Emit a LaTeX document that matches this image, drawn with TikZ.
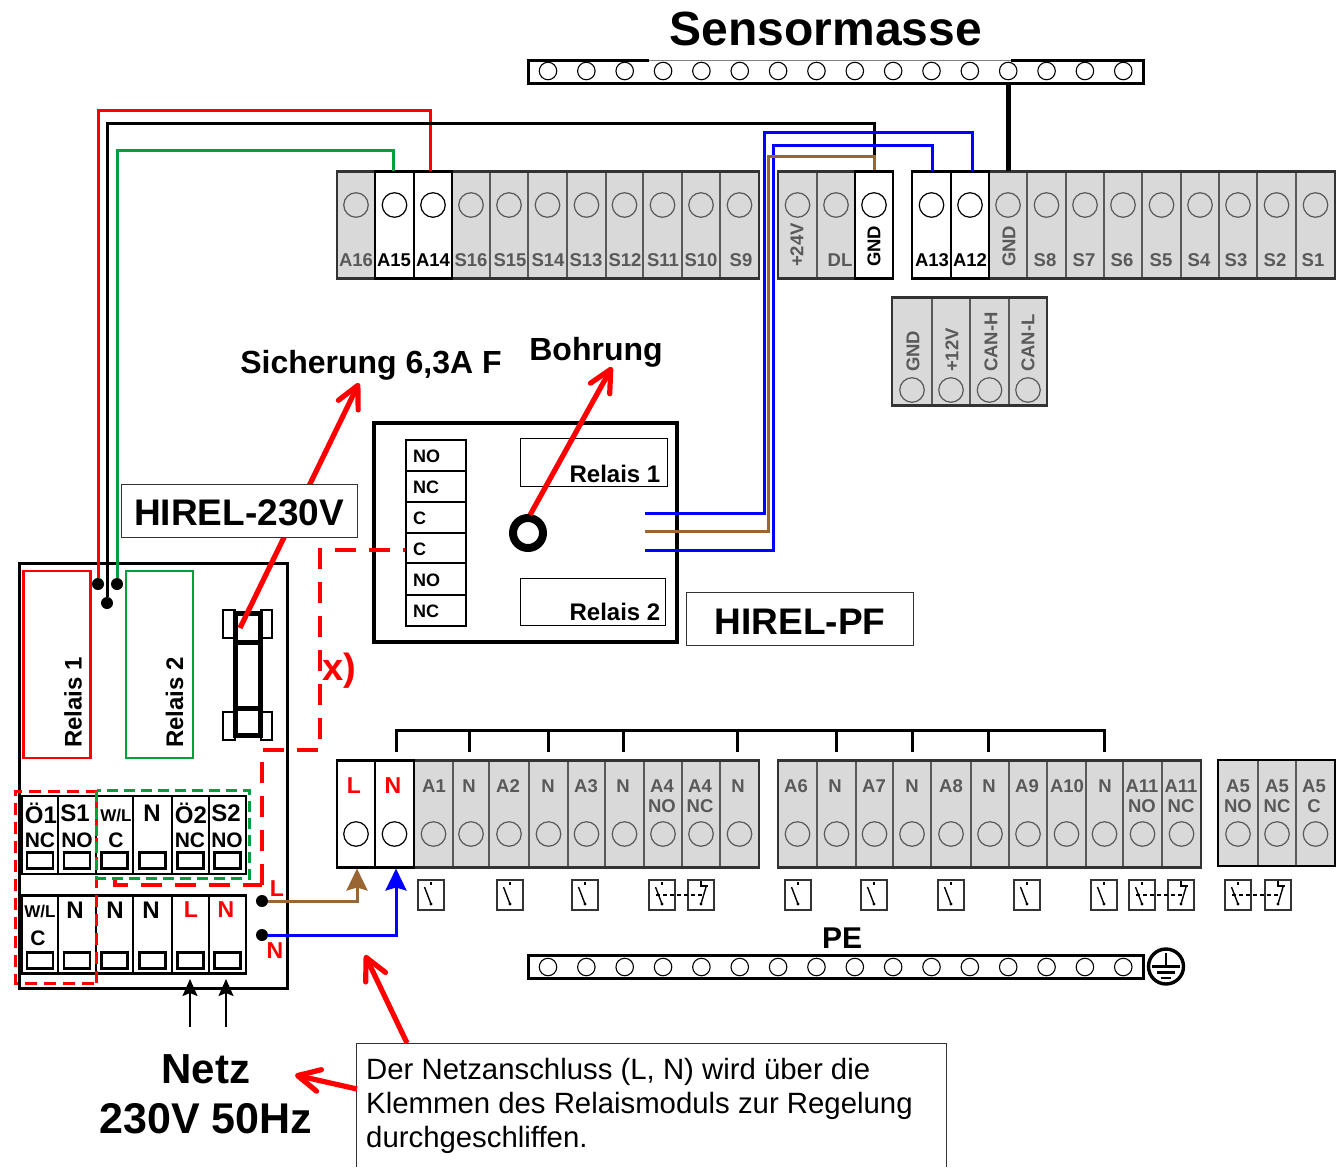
\documentclass[tikz,border=0pt]{standalone}
\usepackage{fontspec}
\setmainfont{Liberation Sans}
\usetikzlibrary{arrows.meta}
\definecolor{zellgrau}{HTML}{D9D9D9}
\definecolor{zellrand}{HTML}{595959}
\definecolor{leistrand}{HTML}{333333}
\definecolor{kabelgruen}{HTML}{00A03C}
\definecolor{kabelbraun}{HTML}{996633}
\tikzset{
  fett/.style={inner sep=0pt,font=\fontsize{#1}{#1}\selectfont\bfseries},
  grauzelle/.style={draw=zellrand,fill=zellgrau,line width=1.8pt},
  weisszelle/.style={draw=black,fill=white,line width=2.6pt},
  graukreis/.style={circle,draw=zellrand,line width=1.2pt,minimum size=24.5pt,inner sep=0pt},
  weisskreis/.style={circle,draw=black,line width=1.2pt,minimum size=24.5pt,inner sep=0pt},
  leistkreis/.style={circle,draw=black,line width=1.1pt,minimum size=17.5pt,inner sep=0pt},
  grautext/.style={fett=18.5,text=zellrand},
  schwarztext/.style={fett=18.5,text=black},
  rottext/.style={fett=23,text=red},
  modultext/.style={fett=#1,text=black},
  strip/.style={draw=leistrand,line width=2.6pt},
  kabel/.style={line width=3pt},
  punkt/.style={circle,fill=black,inner sep=0pt,minimum size=12pt},
  schildbox/.style={draw=leistrand,fill=white,line width=1pt,inner sep=0pt},
  zeiger/.style={draw=red,line width=5.2pt,-{Straight Barb[length=22pt,width=22pt,round,line width=5.2pt]}},
  rotdash/.style={draw=red,line width=4pt,dash pattern=on 21pt off 13pt},
  gruendash/.style={draw=kabelgruen,line width=3pt,dash pattern=on 11pt off 6pt},
  schalter/.style={draw=leistrand,fill=white,line width=1.2pt,minimum width=26pt,minimum height=30pt,inner sep=0pt},
}
\newcommand{\klemmen}[5]{%
  \foreach \xa/\xb/\name in {#5}{
    \pgfmathsetmacro{\xm}{(\xa+\xb)/2}
    \pgfmathsetmacro{\bw}{\xb-\xa}
    \node[#1zelle,minimum width=\bw pt,minimum height=#3pt] (\name) at (\xm,#2) {};
    \node[#1kreis] (\name-k) at (\xm,#4) {};
  }
}
\newcommand{\schliesser}[1]{%
  \node[schalter] (sw#1) at (#1,895) {};
  \draw[line width=1.4pt] (#1,882) -- (#1,885);
  \draw[line width=1.4pt] ([shift={(-6.5pt,8pt)}]sw#1.center) -- ([shift={(0pt,-9pt)}]sw#1.center);
  \fill ([shift={(0pt,-9pt)}]sw#1.center) circle (1.6pt);
}
\newcommand{\oeffner}[1]{%
  \node[schalter] (sw#1) at (#1,895) {};
  \draw[line width=1.4pt] (#1,881) -- (#1,886) -- ++(6.5,0);
  \draw[line width=1.4pt] ([shift={(5pt,8pt)}]sw#1.center) -- ([shift={(0pt,-9pt)}]sw#1.center);
  \fill ([shift={(0pt,-9pt)}]sw#1.center) circle (1.6pt);
}
\begin{document}
\begin{tikzpicture}[x=1pt,y=-1pt]
\useasboundingbox (0,0) rectangle (1338,1167);

% obere Klemmen
\klemmen{grau}{225}{107}{205}{337/375/tA16,452/490/tS16,490/528/tS15,528/567/tS14,567/606/tS13,606/643/tS12,643/682/tS11,682/720/tS10,720/759/tS9}
\draw[strip] (337,171.5) rectangle (759,278.5);
\klemmen{weiss}{225}{107}{205}{375/414/tA15,414/452/tA14}
\klemmen{grau}{225}{107}{205}{778/817/tV24,817/855/tDL}
\draw[strip] (778,171.5) rectangle (893,278.5);
\klemmen{weiss}{225}{107}{205}{855/893/tGNDa}
\klemmen{grau}{225}{107}{205}{989/1027/tGNDb,1027/1066/tS8,1066/1104/tS7,1104/1142/tS6,1142/1181/tS5,1181/1219/tS4,1219/1257/tS3,1257/1296/tS2,1296/1335/tS1}
\draw[strip] (912,171.5) rectangle (1335,278.5);
\klemmen{weiss}{225}{107}{205}{912/951/tA13,951/989/tA12}
\foreach \x/\t in {356/A16,471/S16,510/S15,548/S14,586/S13,625/S12,663/S11,701/S10,741/S9,840/DL,1045/S8,1084/S7,1122/S6,1161/S5,1199/S4,1236/S3,1275/S2,1313/S1}
  \node[grautext] (lab\t) at (\x,260) {\t};
\foreach \x/\t in {394/A15,433/A14,932/A13,970/A12}
  \node[schwarztext] (lab\t) at (\x,260) {\t};
\node[grautext,rotate=90,anchor=west] (lab24V) at (797,267) {+24V};
\node[schwarztext,rotate=90,anchor=west] (labGNDa) at (874,267) {GND};
\node[grautext,rotate=90,anchor=west] (labGNDb) at (1009,267) {GND};

% CAN
\klemmen{grau}{351.5}{107}{390}{892/932/cGND,932/970/cV12,970/1009/cH,1009/1047/cL}
\draw[strip] (892,297.5) rectangle (1047,405.5);
\foreach \x/\t in {913/GND,952/+12V,991/CAN-H,1028/CAN-L}
  \node[grautext,rotate=90,anchor=west] (can\t) at (\x,372) {\t};

% untere Klemmen
\klemmen{grau}{814}{107}{834}{414/453/bA1,453/489/bN1,489/529/bA2,529/568/bN2,568/605/bA3,605/644/bN3,644/682/bA4a,682/720/bA4b,720/759/bN4}
\draw[strip] (337,760.5) rectangle (759,867.5);
\klemmen{weiss}{814}{107}{834}{337/375/bL,375/414/bN}
\klemmen{grau}{814}{107}{834}{778/817/bA6,817/856/bN5,856/893/bA7,893/931/bN6,931/971/bA8,971/1009/bN7,1009/1047/bA9,1047/1086/bA10,1086/1123/bN8,1123/1162/bA11a,1162/1201/bA11b}
\draw[strip] (778,760.5) rectangle (1201,867.5);
\klemmen{grau}{813}{106}{834}{1218/1258/bA5a,1258/1296/bA5b,1296/1335/bA5c}
\draw[draw=black,line width=2.6pt] (1218,760) rectangle (1335,866);
\foreach \x/\t in {434/A1,469/N,508/A2,548/N,586/A3,623/N,662/A4,700/A4,738/N,796/A6,835/N,874/A7,912/N,951/A8,989/N,1027/A9,1067/A10,1105/N,1142/A11,1181/A11,1238/A5,1277/A5,1314/A5}
  \node[grautext] (lab\x) at (\x,786) {\t};
\foreach \x/\t in {662/NO,700/NC,1142/NO,1181/NC,1238/NO,1277/NC,1314/C}
  \node[grautext] (sub\x) at (\x,806) {\t};
\node[rottext] (labL) at (354,786) {L};
\node[rottext] (labN) at (393,786) {N};

% Brueckungen N
\draw[line width=3pt] (396,752) -- (396,730) -- (1104,730) -- (1104,752);
\foreach \x in {469,548,623,737,836,912,988}
  \draw[line width=3pt] (\x,730) -- (\x,752);

% Schalter
\foreach \x in {431,510,585,798,874,951,1027,1104}{
  \schliesser{\x}
}
\foreach \a/\b in {662/701,1142/1181,1238/1278}{
  \schliesser{\a}
  \oeffner{\b}
  \draw[line width=1.5pt,dash pattern=on 3.5pt off 3.5pt] ([xshift=-6pt]sw\a.center) -- ([xshift=2pt]sw\b.center);
}

% Sensormasse und PE
\node[draw=gray,fill=white,line width=.8pt,minimum width=615pt,minimum height=23pt,inner sep=0pt] (sensor) at (835.5,71.5) {};
\draw[line width=3pt] (649,60) -- (528,60) -- (528,83) -- (1143,83) -- (1143,60) -- (1011,60);
\foreach \i in {0,...,15}
  \node[leistkreis] (sk\i) at ({548+38.35*\i},71) {};
\node[fett=48] (titel) at (826,29) {Sensormasse};
\draw[line width=5pt] (tGNDb.north) -- (tGNDb.north |- sensor.south);
\node[draw=black,fill=white,line width=3pt,minimum width=615pt,minimum height=23pt,inner sep=0pt] (pe) at (835.5,966.5) {};
\foreach \i in {0,...,15}
  \node[leistkreis] (pk\i) at ({548+38.35*\i},967) {};
\node[fett=30] (pelab) at (842,938) {PE};
\node[circle,draw=black,line width=3.4pt,minimum size=35pt,inner sep=0pt] (erde) at (1166,966.5) {};
\draw[line width=2.6pt] (1166,953) -- (1166,966.5);
\draw[line width=2.6pt] (1152,966.5) -- (1180,966.5);
\draw[line width=2.4pt] (1157,972.5) -- (1175,972.5);
\draw[line width=2.4pt] (1161,978) -- (1171,978);

% Modul HIREL-230V
\node[draw=black,line width=3pt,minimum width=268pt,minimum height=425pt,inner sep=0pt] (modul) at (153,775.5) {};
\node[draw=red,line width=2.6pt,minimum width=67pt,minimum height=187pt,inner sep=0pt] (rel1) at (57,664.5) {};
\node[draw=kabelgruen,line width=2.6pt,minimum width=67pt,minimum height=187pt,inner sep=0pt] (rel2) at (159.5,664.5) {};
\node[modultext=24,rotate=90,anchor=west] (rel1lab) at (73,748) {Relais 1};
\node[modultext=24,rotate=90,anchor=west] (rel2lab) at (174.5,748) {Relais 2};

% Sicherung
\foreach \y in {624,726}{
  \draw[line width=1.6pt] (223,\y-14) rectangle (235,\y+14);
  \draw[line width=1.6pt] (261,\y-14) rectangle (272,\y+14);
}
\node[draw=black,line width=4.5pt,minimum width=25pt,minimum height=122pt,inner sep=0pt] (fuse) at (248,674.5) {};
\draw[line width=5pt] (235,642) -- (261,642);
\draw[line width=5pt] (235,708) -- (261,708);

% Klemmblock im Modul
\foreach \xa/\xb in {22/58,58/96,96/133,133/172,172/209,209/246}{
  \pgfmathsetmacro{\xm}{(\xa+\xb)/2}
  \pgfmathsetmacro{\bw}{\xb-\xa}
  \foreach \ym/\yr in {835/860.5,934.5/960.5}{
    \node[draw=black,line width=2.6pt,minimum width=\bw pt,minimum height=78pt,inner sep=0pt] (mk\xa-\ym) at (\xm,\ym) {};
    \node[draw=black,line width=2.2pt,minimum width=26pt,minimum height=16pt,inner sep=0pt] (mr\xa-\ym) at (\xm,\yr) {};
  }
}
\foreach \x/\t in {41/Ö1,75/S1,152/N,191/Ö2,226/S2}
  \node[modultext=24] (o\t) at (\x,813) {\t};
\foreach \x/\t in {40/NC,77/NO,116/C,190/NC,227/NO}
  \node[modultext=21] (u\x) at (\x,840) {\t};
\node[modultext=17] (owl) at (116,815) {W/L};
\node[modultext=17] (uwl) at (40,911) {W/L};
\node[modultext=21] (uc) at (38,938) {C};
\foreach \x in {75,115,151}
  \node[modultext=24] (un\x) at (\x,910) {N};
\node[rottext] (modL) at (191,910) {L};
\node[rottext] (modN) at (226,910) {N};

% Kabel
\node[punkt] (pktrot) at (98,584) {};
\node[punkt] (pktsw) at (107,603) {};
\node[punkt] (pktgr) at (117,584) {};
\draw[kabel,red] (pktrot) |- (430,110) -- (430,171);
\draw[kabel,kabelgruen] (pktgr) |- (393,150) -- (393,171);
\draw[line width=3pt] (pktsw) |- (874,123) -- (874,156);

% Netzanschluss
\node[punkt] (netzL) at (262,901) {};
\node[punkt] (netzN) at (262,935) {};
\node[rottext] (netzLlab) at (277,889) {L};
\node[rottext] (netzNlab) at (275,951) {N};
\draw[kabel,kabelbraun,-{Stealth[length=22pt,width=21pt,inset=3pt]}] (netzL) -| (357,868.5);
\draw[kabel,blue,-{Stealth[length=22pt,width=21pt,inset=3pt]}] (netzN) -| (396,868.5);
\node[modultext=42] (netz1) at (206,1069) {Netz};
\node[modultext=43] (netz2) at (206,1119) {230V 50Hz};
\draw[line width=2pt,-{Stealth[length=17pt,width=15pt,inset=3pt]}] (190,1027) -- (190,979);
\draw[line width=2pt,-{Stealth[length=17pt,width=15pt,inset=3pt]}] (226,1027) -- (226,979);

% HIREL-PF
\node[draw=black,fill=white,line width=4pt,minimum width=303pt,minimum height=219pt,inner sep=0pt] (pf) at (525.5,532.5) {};
\foreach \ya/\yb/\t in {440/471/NO,471/502/NC,502/533/C,533/563/C,563/595/NO,595/626/NC}{
  \pgfmathsetmacro{\ym}{(\ya+\yb)/2}
  \pgfmathsetmacro{\bh}{\yb-\ya}
  \node[draw=black,line width=2.4pt,minimum width=60pt,minimum height=\bh pt,inner sep=0pt] (pf\ya) at (436,\ym) {};
  \node[modultext=18,anchor=west] (pfl\ya) at (413,\ym+1) {\t};
}
\draw[rotdash] (262,885) -- (262,750) -- (320,750) -- (320,550) -- (pf533.west |- 0,550);
\draw[rotdash] (115,877) -- (115,885) -- (262,885);
\draw[draw=red,line width=3pt,dash pattern=on 12pt off 7pt] (96,983) -- (96,791) -- (15,791) -- (15,983) -- (96,983);
\draw[gruendash] (96.5,791) -- (96.5,878) -- (249,878) -- (249,790) -- (96.5,790);
\node[fett=38,text=red] (xlab) at (339,671) {x)};
\coordinate (rel1a) at (645,513);
\coordinate (rel1b) at (645,531);
\coordinate (rel1c) at (645,550);
\draw[kabel,blue] (rel1a) -| (764.5,132) -| (972,171);
\draw[kabel,blue] (rel1c) -| (773,145) -| (932,171);
\draw[kabel,kabelbraun] (rel1b) -| (768.5,156) -| (tGNDa.north);
\node[draw=black,line width=1pt,minimum width=147pt,minimum height=48pt,inner sep=0pt] (pfrel1) at (593.5,462) {};
\node[draw=black,line width=1pt,minimum width=145pt,minimum height=47pt,inner sep=0pt] (pfrel2) at (592.5,601.5) {};
\node[modultext=24,anchor=east] (pfrel1lab) at (660.5,474) {Relais 1};
\node[modultext=24,anchor=east] (pfrel2lab) at (660.5,612) {Relais 2};
\node[circle,draw=black,line width=8pt,minimum size=30pt,inner sep=0pt] (loch) at (528,533) {};

% Zeiger
\coordinate (sichstart) at (240,628);
\coordinate (sichspitze) at (359,383);
\coordinate (bohrspitze) at (612,367);
\coordinate (lochrand) at (530,515);
\draw[zeiger] (sichstart) -- (sichspitze);
\draw[zeiger] (lochrand) -- (bohrspitze);
\node[schildbox,minimum width=236pt,minimum height=53pt] (hirel230) at (239,510.5) {};
\node[fett=37] (hirel230lab) at (239,513) {HIREL-230V};
\node[schildbox,minimum width=227pt,minimum height=53pt] (hirelpf) at (799.5,618.5) {};
\node[fett=37] (hirelpflab) at (800,622) {HIREL-PF};
\node[fett=32] (sichlab) at (371,365) {Sicherung 6,3A F};
\node[fett=32] (bohrlab) at (596,352) {Bohrung};

% Hinweis
\node[inner sep=0pt,minimum width=589pt,minimum height=123pt] (hinweis) at (651.5,1105.5) {};
\draw[line width=1pt,draw=leistrand] (hinweis.south west) |- (hinweis.north east) -- (hinweis.south east);
\node[anchor=north west,inner sep=0pt,align=left,font=\fontsize{29.35}{34}\selectfont] (hinweistext) at (366,1058.5) {Der Netzanschluss (L, N) wird über die\\Klemmen des Relaismoduls zur Regelung\\durchgeschliffen.};
\coordinate (peil1) at (407,1043);
\coordinate (peil1spitze) at (365,955);
\coordinate (peil2) at (357,1089);
\coordinate (peil2spitze) at (295,1075);
\draw[zeiger] (peil1) -- (peil1spitze);
\draw[zeiger] (peil2) -- (peil2spitze);
\end{tikzpicture}
\end{document}
